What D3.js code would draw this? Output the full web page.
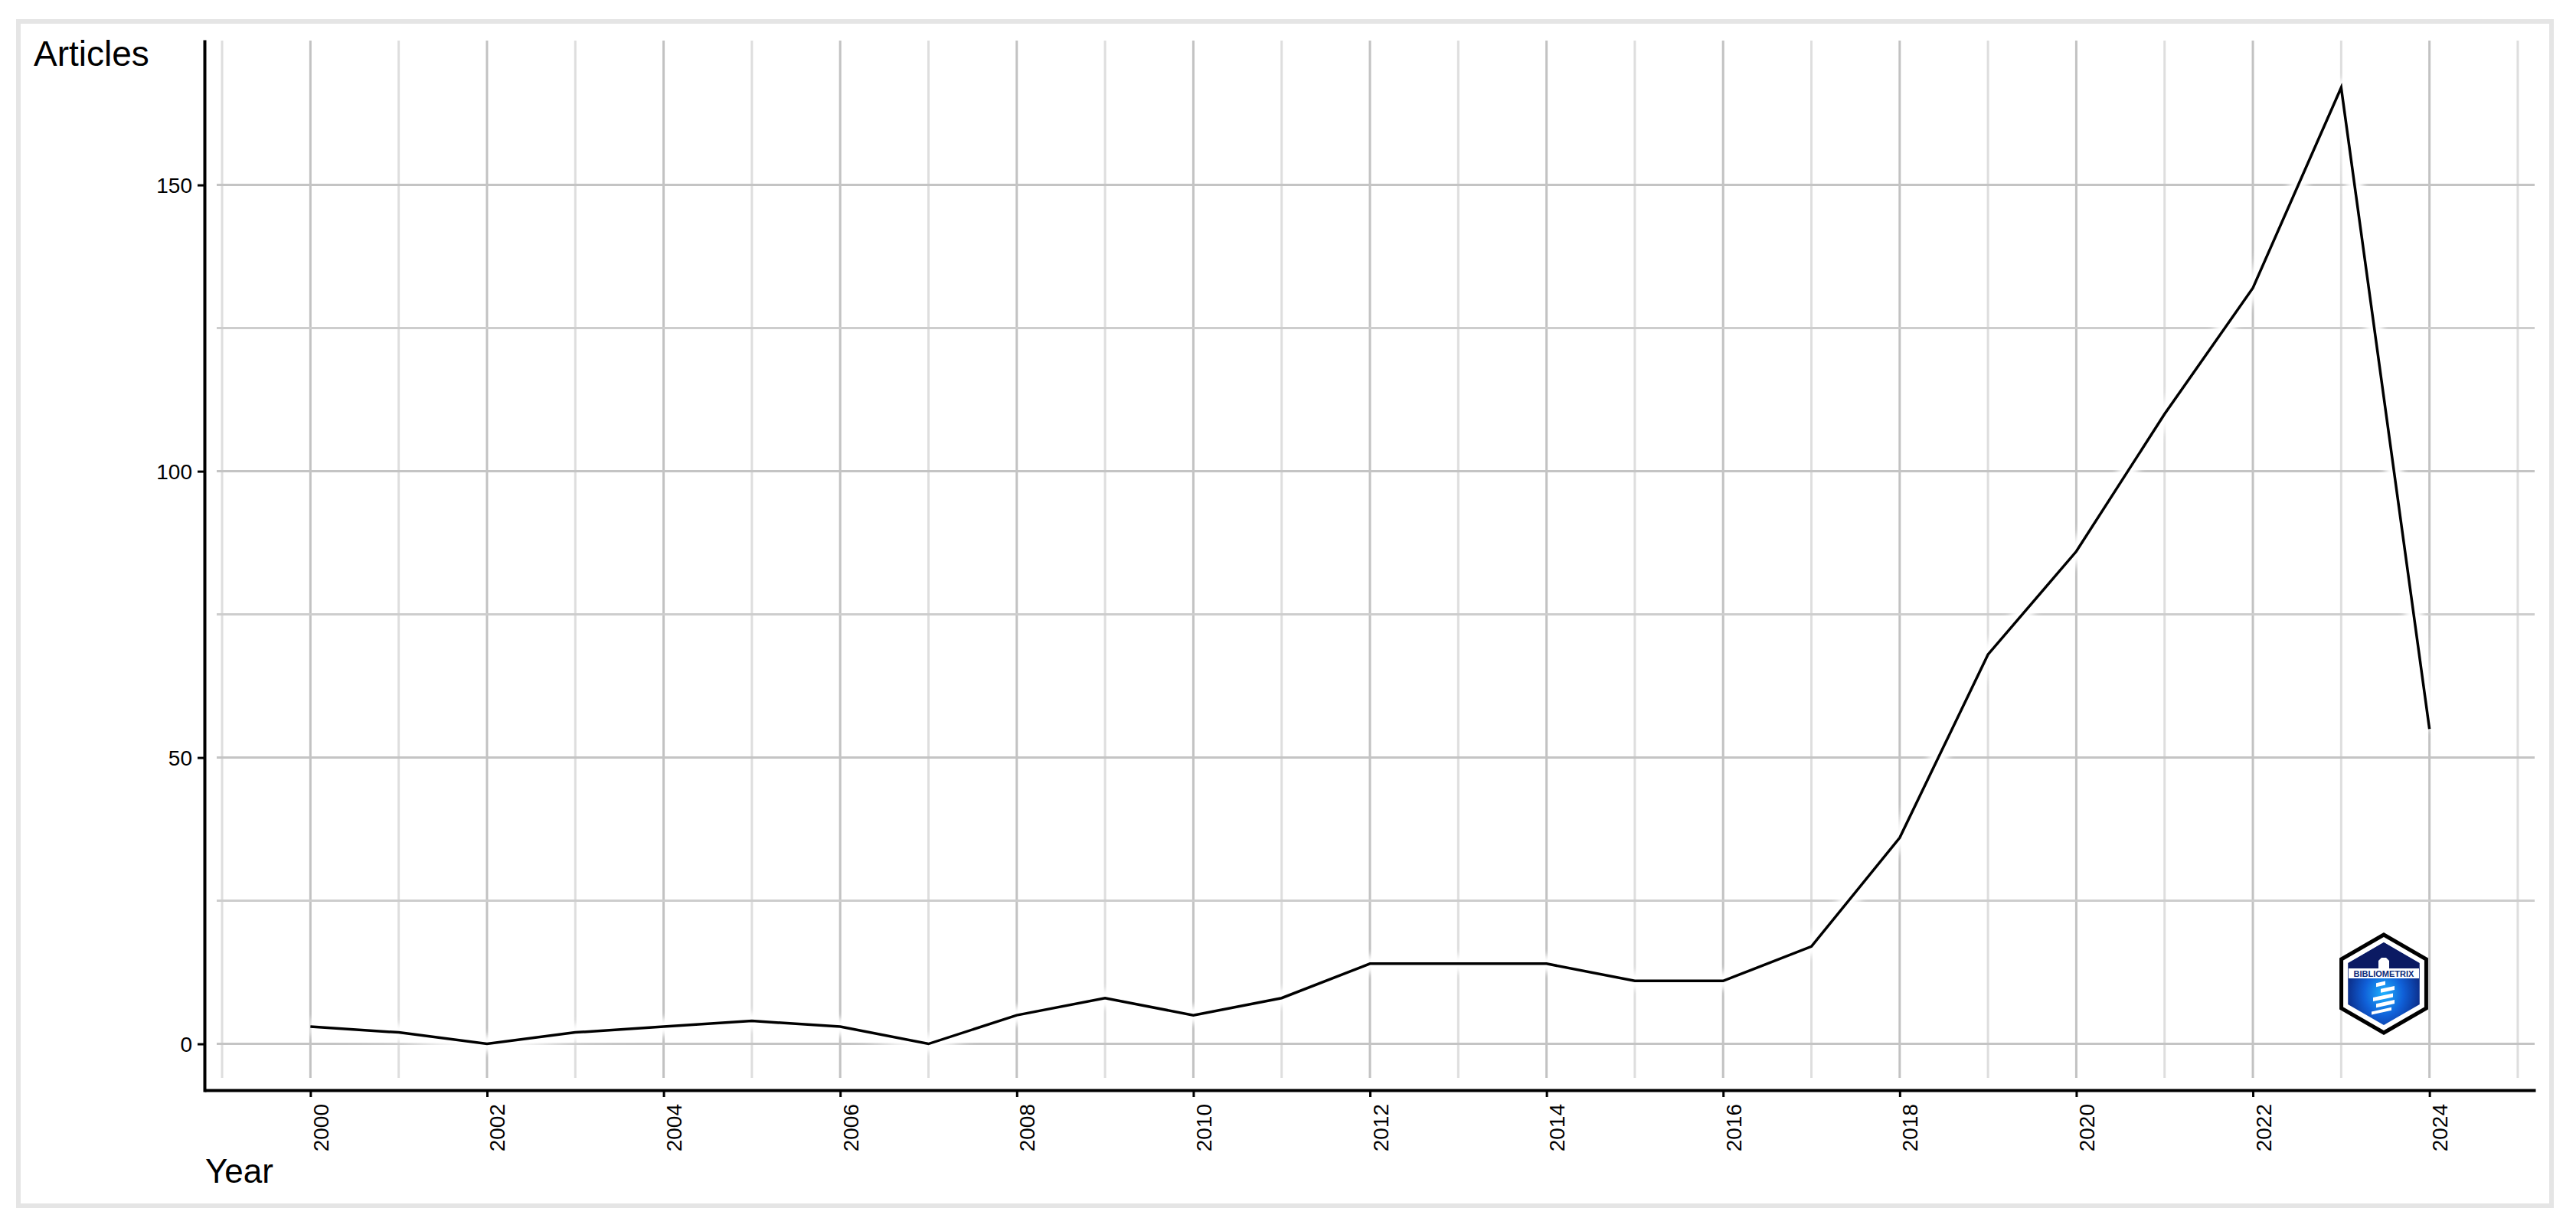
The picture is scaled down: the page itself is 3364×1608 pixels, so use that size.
<!DOCTYPE html>
<html>
<head>
<meta charset="utf-8">
<script src="https://cdn.jsdelivr.net/npm/d3@7"></script>
<style>
  body { margin: 0; background: #fff; }
  text { font-family: "Liberation Sans", Arial, sans-serif; }
</style>
</head>
<body>
<div id="line-chart"></div>
<script>
const years = [2000, 2001, 2002, 2003, 2004, 2005, 2006, 2007, 2008, 2009, 2010, 2011, 2012,
  2013, 2014, 2015, 2016, 2017, 2018, 2019, 2020, 2021, 2022, 2023, 2024];
const articles = [3, 2, 0, 2, 3, 4, 3, 0, 5, 8, 5, 8, 14, 14, 14, 11, 11, 17, 36, 68, 86, 110, 132, 167, 55];

const xTicks = [2000, 2002, 2004, 2006, 2008, 2010, 2012, 2014, 2016, 2018, 2020, 2022, 2024];
const xMinor = [1999, 2001, 2003, 2005, 2007, 2009, 2011, 2013, 2015, 2017, 2019, 2021, 2023, 2025];
const yTicks = [0, 50, 100, 150];
const yMinor = [25, 75, 125];

function drawLineChart() {
  const dataset = years.map((d, i) => ({ year: d, n: articles[i] }));

  // 1. Access data
  const xAccessor = d => d.year;
  const yAccessor = d => d.n;

  // 2. Chart dimensions
  let dimensions = {
    width: 3364,
    height: 1608,
    margin: {
      top: 52,
      right: 53,
      bottom: 182,
      left: 267,
    }
  };
  dimensions.boundedWidth = dimensions.width
    - dimensions.margin.left
    - dimensions.margin.right;
  dimensions.boundedHeight = dimensions.height
    - dimensions.margin.top
    - dimensions.margin.bottom;

  // 3. Canvas
  const wrapper = d3.select('#line-chart')
    .append('svg')
      .attr('width', dimensions.width)
      .attr('height', dimensions.height);

  wrapper.append('rect')
    .attr('x', 24)
    .attr('y', 28)
    .attr('width', 3308)
    .attr('height', 1547)
    .attr('fill', '#fff')
    .attr('stroke', '#e5e5e5')
    .attr('stroke-width', 6);

  const bounds = wrapper.append('g')
    .attr('transform', `translate(${dimensions.margin.left}, ${dimensions.margin.top})`);

  // 4. Scales (ggplot-like 5% expansion)
  const xExt = d3.extent(dataset, xAccessor);
  const yExt = [0, d3.max(dataset, yAccessor)];
  const xPad = (xExt[1] - xExt[0]) * 0.05;
  const yPad = (yExt[1] - yExt[0]) * 0.05;

  const xScale = d3.scaleLinear()
    .domain([xExt[0] - xPad, xExt[1] + xPad])
    .range([0, dimensions.boundedWidth]);

  const yScale = d3.scaleLinear()
    .domain([yExt[0] - yPad, yExt[1] + yPad])
    .range([dimensions.boundedHeight, 0]);

  // 5. Grid
  const grid = bounds.append('g');
  const gx0 = 16, gx1 = dimensions.boundedWidth - 1;
  const gy0 = 1, gy1 = dimensions.boundedHeight - 18;

  grid.selectAll('.vminor')
    .data(xMinor)
    .join('line')
      .attr('x1', d => xScale(d)).attr('x2', d => xScale(d))
      .attr('y1', gy0).attr('y2', gy1)
      .attr('stroke', '#dedede')
      .attr('stroke-width', 3);

  grid.selectAll('.vmajor')
    .data(xTicks)
    .join('line')
      .attr('x1', d => xScale(d)).attr('x2', d => xScale(d))
      .attr('y1', gy0).attr('y2', gy1)
      .attr('stroke', '#c2c2c2')
      .attr('stroke-width', 3);

  grid.selectAll('.hminor')
    .data(yMinor)
    .join('line')
      .attr('x1', gx0).attr('x2', gx1)
      .attr('y1', d => yScale(d)).attr('y2', d => yScale(d))
      .attr('stroke', '#cdcdcd')
      .attr('stroke-width', 3);

  grid.selectAll('.hmajor')
    .data(yTicks)
    .join('line')
      .attr('x1', gx0).attr('x2', gx1)
      .attr('y1', d => yScale(d)).attr('y2', d => yScale(d))
      .attr('stroke', '#c4c4c4')
      .attr('stroke-width', 3);

  // 6. Line (with a soft white halo that breaks the grid like the original)
  const defs = wrapper.append('defs');
  defs.append('filter')
    .attr('id', 'soft')
    .append('feGaussianBlur')
      .attr('stdDeviation', 4);

  const lineGenerator = d3.line()
    .x(d => xScale(xAccessor(d)))
    .y(d => yScale(yAccessor(d)));

  bounds.append('path')
    .attr('d', lineGenerator(dataset))
    .attr('fill', 'none')
    .attr('stroke', '#fff')
    .attr('stroke-width', 22)
    .attr('stroke-linejoin', 'round')
    .attr('filter', 'url(#soft)');

  bounds.append('path')
    .attr('d', lineGenerator(dataset))
    .attr('fill', 'none')
    .attr('stroke', '#000')
    .attr('stroke-width', 3.5)
    .attr('stroke-linejoin', 'miter');

  // 7. Axes
  const yAxisGenerator = d3.axisLeft(yScale)
    .tickValues(yTicks)
    .tickSize(9)
    .tickSizeOuter(0)
    .tickPadding(7);

  const yAxis = bounds.append('g').call(yAxisGenerator);

  const xAxisGenerator = d3.axisBottom(xScale)
    .tickValues(xTicks)
    .tickSize(9)
    .tickSizeOuter(0)
    .tickFormat(d3.format('d'));

  const xAxis = bounds.append('g')
    .attr('transform', `translate(0, ${dimensions.boundedHeight - 2})`)
    .call(xAxisGenerator);

  [xAxis, yAxis].forEach(ax => {
    ax.select('.domain').attr('stroke', '#000').attr('stroke-width', 4);
    ax.selectAll('.tick line').attr('stroke', '#000').attr('stroke-width', 3);
    ax.selectAll('.tick text')
      .attr('fill', '#000')
      .style('font-size', '28px')
      .style('font-family', '"Liberation Sans", Arial, sans-serif');
  });

  yAxis.selectAll('.tick text').attr('dy', '0.36em');

  xAxis.selectAll('.tick text')
    .attr('x', 0)
    .attr('y', 0)
    .attr('dy', 0)
    .attr('text-anchor', 'end')
    .attr('transform', 'translate(23, 18) rotate(-90)');

  // labels
  wrapper.append('text')
    .attr('x', 44)
    .attr('y', 86)
    .style('font-size', '46px')
    .attr('fill', '#000')
    .text('Articles');

  wrapper.append('text')
    .attr('x', 268)
    .attr('y', 1545)
    .style('font-size', '44px')
    .attr('fill', '#000')
    .text('Year');

  // 8. bibliometrix badge
  const grad = defs.append('radialGradient')
    .attr('id', 'glow')
    .attr('cx', '50%').attr('cy', '62%').attr('r', '60%');
  grad.append('stop').attr('offset', '0%').attr('stop-color', '#1fb3ff');
  grad.append('stop').attr('offset', '45%').attr('stop-color', '#1060d8');
  grad.append('stop').attr('offset', '100%').attr('stop-color', '#0a1c6e');

  const hex = r => d3.range(6).map(i => {
    const a = Math.PI / 3 * i - Math.PI / 2;
    return [r * Math.cos(a), r * Math.sin(a)];
  });

  const badge = wrapper.append('g')
    .attr('transform', 'translate(3113, 1285)');

  badge.append('polygon')
    .attr('points', hex(64).join(' '))
    .attr('fill', '#fff')
    .attr('stroke', '#000')
    .attr('stroke-width', 5);

  badge.append('polygon')
    .attr('points', hex(54).join(' '))
    .attr('fill', 'url(#glow)');

  badge.append('path')
    .attr('d', 'M-46,-27 L0,-54 L46,-27 L46,-20 L-46,-20 Z')
    .attr('fill', '#0b1a63');

  badge.append('path')
    .attr('d', 'M-7,-20 L-7,-30 L-3,-34 L3,-34 L7,-30 L7,-20 Z')
    .attr('fill', '#fff');

  badge.append('rect')
    .attr('x', -46).attr('y', -20)
    .attr('width', 92).attr('height', 13)
    .attr('fill', '#fff');

  badge.append('text')
    .attr('x', 0).attr('y', -9)
    .attr('text-anchor', 'middle')
    .attr('fill', '#0b2a7a')
    .style('font-size', '11px')
    .style('font-weight', 'bold')
    .text('BIBLIOMETRIX');

  const bars = [[-10, -3, 12, 5], [-4, 6, 18, 5], [-14, 15, 26, 5], [-10, 24, 24, 5], [-16, 33, 26, 4]];
  badge.selectAll('.bar')
    .data(bars)
    .join('rect')
      .attr('x', d => d[0]).attr('y', d => d[1])
      .attr('width', d => d[2]).attr('height', d => d[3])
      .attr('fill', '#fff')
      .attr('transform', 'skewY(-12)');
}

drawLineChart();
</script>
</body>
</html>
